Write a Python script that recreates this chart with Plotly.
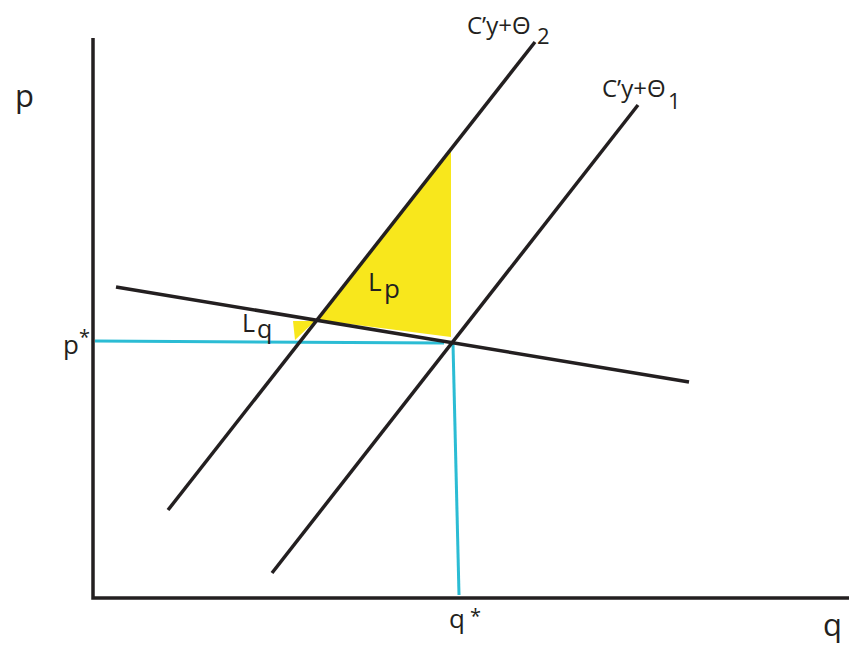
import plotly.graph_objects as go

# Diagram data in (q, p) units; origin at the axes corner
axis_q = [0, 0, 764]
axis_p = [560, 0, 0]

supply2_q = [75, 442]          # C'y+Θ2
supply2_p = [88, 556]
supply1_q = [179, 545]         # C'y+Θ1
supply1_p = [25, 493]
demand_q = [23, 596]
demand_p = [311, 216]

pstar_line_q = [2, 351]
pstar_line_p = [257, 255]
qstar_line_q = [360, 366]
qstar_line_p = [254, 3]

Lp_q = [225, 358, 358, 225]
Lp_p = [278, 449, 261, 278]
Lq_q = [200, 222, 202, 200]
Lq_p = [277, 277, 258, 277]

BLACK = "#231f20"
CYAN = "#2bbcd4"
YELLOW = "#f8e71c"
FONT = "Open Sans"

fig = go.Figure()

# yellow areas
for qq, pp in [(Lp_q, Lp_p), (Lq_q, Lq_p)]:
    fig.add_trace(go.Scatter(x=qq, y=pp, mode="lines", fill="toself",
                             fillcolor=YELLOW, line=dict(width=0),
                             hoverinfo="skip", showlegend=False))

# cyan guide lines
for qq, pp in [(pstar_line_q, pstar_line_p), (qstar_line_q, qstar_line_p)]:
    fig.add_trace(go.Scatter(x=qq, y=pp, mode="lines",
                             line=dict(color=CYAN, width=3),
                             hoverinfo="skip", showlegend=False))

# black curves
for qq, pp in [(supply2_q, supply2_p), (supply1_q, supply1_p), (demand_q, demand_p)]:
    fig.add_trace(go.Scatter(x=qq, y=pp, mode="lines",
                             line=dict(color=BLACK, width=3.5),
                             hoverinfo="skip", showlegend=False))

# axes
fig.add_trace(go.Scatter(x=axis_q, y=axis_p, mode="lines",
                         line=dict(color=BLACK, width=3.5),
                         hoverinfo="skip", showlegend=False))

def lab(x, y, text, size, anchor="center"):
    fig.add_annotation(x=x, y=y, text=text, showarrow=False,
                       xanchor=anchor, yanchor="middle",
                       font=dict(family=FONT, size=size, color=BLACK))

lab(-69, 503, "p", 31)
lab(739, -26, "q", 31)
lab(-22, 254, "p", 26)
lab(-9, 262, "*", 20)
lab(364, -20, "q", 26)
lab(382, -17, "*", 20)
lab(155, 276, "L", 25)
lab(171, 270, "q", 25)
lab(282, 317, "L", 26)
lab(299, 310, "p", 26)
lab(406, 574, "C’y+Θ", 24)
lab(450, 563, "2", 22)
lab(541, 511, "C’y+Θ", 24)
lab(581, 498, "1", 22)

fig.update_layout(
    width=849, height=637,
    margin=dict(l=0, r=0, t=0, b=0),
    plot_bgcolor="white", paper_bgcolor="white",
    xaxis=dict(range=[-85, 764], visible=False, fixedrange=True),
    yaxis=dict(range=[-47, 590], visible=False, fixedrange=True),
)

fig.write_html("out.html")
